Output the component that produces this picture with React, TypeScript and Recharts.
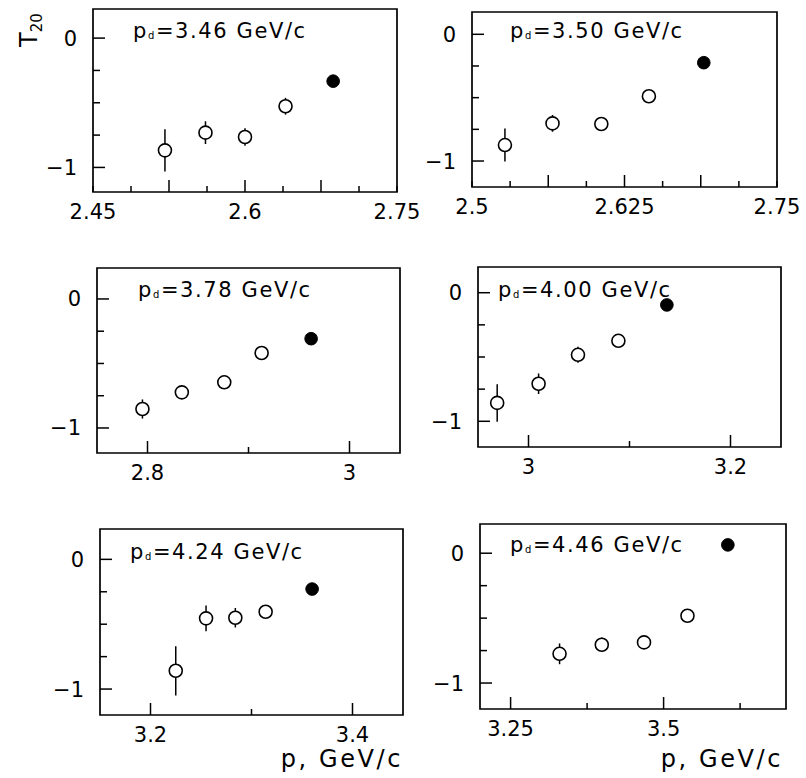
import { ErrorBar, ReferenceArea, Scatter, ScatterChart, XAxis, YAxis } from 'recharts';

// beam momentum of each panel (GeV/c)
const PANEL_PD = ['3.46', '3.50', '3.78', '4.00', '4.24', '4.46'];

// open points: p (GeV/c), T20 and its error
const OPEN_P = [
    [2.521, 2.561, 2.6, 2.64],
    [2.527, 2.566, 2.606, 2.645],
    [2.795, 2.834, 2.876, 2.913],
    [2.969, 3.01, 3.049, 3.089],
    [3.225, 3.255, 3.284, 3.314],
    [3.33, 3.399, 3.468, 3.539],
];
const OPEN_T20 = [
    [-0.868, -0.731, -0.765, -0.527],
    [-0.874, -0.703, -0.708, -0.489],
    [-0.853, -0.724, -0.646, -0.419],
    [-0.857, -0.708, -0.483, -0.374],
    [-0.859, -0.455, -0.45, -0.404],
    [-0.775, -0.705, -0.687, -0.482],
];
const OPEN_ERR = [
    [0.163, 0.088, 0.067, 0.065],
    [0.13, 0.066, 0.045, 0.045],
    [0.074, 0.045, 0.045, 0.045],
    [0.146, 0.08, 0.062, 0.045],
    [0.19, 0.1, 0.075, 0.05],
    [0.08, 0.055, 0.045, 0.045],
];

// filled point of each panel
const FILLED_P = [2.687, 2.69, 2.962, 3.137, 3.36, 3.605];
const FILLED_T20 = [-0.333, -0.224, -0.308, -0.095, -0.229, 0.064];

const X_DOMAINS = [
    [2.45, 2.75],
    [2.5, 2.75],
    [2.75, 3.05],
    [2.95, 3.25],
    [3.15, 3.45],
    [3.2, 3.7],
];
const Y_DOMAINS = [
    [-1.19, 0.225],
    [-1.205, 0.176],
    [-1.194, 0.24],
    [-1.2, 0.2],
    [-1.2, 0.234],
    [-1.2, 0.225],
];

const X_TICKS = [
    [2.45, 2.4875, 2.525, 2.5625, 2.6, 2.6375, 2.675, 2.7125, 2.75],
    [2.5, 2.53125, 2.5625, 2.59375, 2.625, 2.65625, 2.6875, 2.71875, 2.75],
    [2.8, 2.9, 3.0],
    [3.0, 3.1, 3.2],
    [3.2, 3.3, 3.4],
    [3.25, 3.375, 3.5, 3.625],
];
const X_MAJOR = [
    [2.525, 2.6, 2.675],
    [2.5625, 2.625, 2.6875],
    [2.8, 3.0],
    [3.0, 3.2],
    [3.2, 3.4],
    [3.25, 3.5],
];
const X_LABELED = [
    [2.45, 2.6, 2.75],
    [2.5, 2.625, 2.75],
    [2.8, 3.0],
    [3.0, 3.2],
    [3.2, 3.4],
    [3.25, 3.5],
];
const Y_TICKS = [-1, -0.75, -0.5, -0.25, 0];
const Y_MAJOR = [-1, 0];

// frame of each panel on the page
const BOXES = [
    { left: 93, top: 9, width: 304, height: 183, labelDx: 40, labelDy: 29 },
    { left: 472, top: 12, width: 305, height: 175, labelDx: 38, labelDy: 26 },
    { left: 97, top: 268, width: 303, height: 185, labelDx: 41, labelDy: 29 },
    { left: 478, top: 267, width: 303, height: 180, labelDx: 20, labelDy: 30 },
    { left: 100, top: 529, width: 303, height: 186, labelDx: 30, labelDy: 30 },
    { left: 480, top: 524, width: 306, height: 185, labelDx: 30, labelDy: 28 },
];

const FONT = '"DejaVu Sans", sans-serif';
const Y_AXIS_W = 70;
const X_AXIS_H = 40;
const M_TOP = 10;
const M_RIGHT = 35;

const fmt = (v: number) => (v < 0 ? '\u2212' + String(-v) : String(v));

// ticks point into the frame, so the line starts at the plot edge
function XTick(props: any) {
    const { x, payload, major, labeled, edge } = props;
    const v = payload.value;
    const len = major.includes(v) ? 12 : 6;
    return (
        <g>
            <line x1={x} y1={edge} x2={x} y2={edge - len} stroke="#000" strokeWidth={1.5} />
            {labeled.includes(v) ? (
                <text x={x} y={edge + 27} textAnchor="middle" fontSize={21} fontFamily={FONT} fill="#000">
                    {fmt(v)}
                </text>
            ) : null}
        </g>
    );
}

function YTick(props: any) {
    const { y, payload, edge } = props;
    const v = payload.value;
    const isMajor = Y_MAJOR.includes(v);
    return (
        <g>
            <line x1={edge} y1={y} x2={edge + (isMajor ? 12 : 7)} y2={y} stroke="#000" strokeWidth={1.5} />
            {isMajor ? (
                <text x={edge - 16} y={y + 7.5} textAnchor="end" fontSize={21} fontFamily={FONT} fill="#000">
                    {fmt(v)}
                </text>
            ) : null}
        </g>
    );
}

function Panel({ i }: { i: number }) {
    const box = BOXES[i];
    const xd = X_DOMAINS[i];
    const yd = Y_DOMAINS[i];
    const open = OPEN_P[i].map((p, k) => ({ x: p, y: OPEN_T20[i][k], err: OPEN_ERR[i][k] }));
    const filled = [{ x: FILLED_P[i], y: FILLED_T20[i] }];

    const panelLabel = (lp: any) => {
        const vb = lp.viewBox;
        return (
            <text
                x={vb.x + box.labelDx}
                y={vb.y + box.labelDy}
                fontSize={21}
                letterSpacing={1.6}
                fontFamily={FONT}
                fill="#000"
            >
                p
                <tspan fontSize={10} dy={1}>
                    d
                </tspan>
                <tspan dy={-1}>={PANEL_PD[i]} GeV/c</tspan>
            </text>
        );
    };

    return (
        <div
            style={{
                position: 'absolute',
                left: box.left - Y_AXIS_W,
                top: box.top - M_TOP,
            }}
        >
            <ScatterChart
                width={box.width + Y_AXIS_W + M_RIGHT}
                height={box.height + M_TOP + X_AXIS_H}
                margin={{ top: M_TOP, right: M_RIGHT, bottom: 0, left: 0 }}
            >
                <XAxis
                    type="number"
                    dataKey="x"
                    domain={xd}
                    ticks={X_TICKS[i]}
                    interval={0}
                    allowDataOverflow
                    axisLine={false}
                    tickLine={false}
                    tickSize={0}
                    tickMargin={0}
                    height={X_AXIS_H}
                    tick={(p: any) => (
                        <XTick {...p} major={X_MAJOR[i]} labeled={X_LABELED[i]} edge={M_TOP + box.height} />
                    )}
                />
                <YAxis
                    type="number"
                    dataKey="y"
                    domain={yd}
                    ticks={Y_TICKS}
                    interval={0}
                    allowDataOverflow
                    axisLine={false}
                    tickLine={false}
                    tickSize={0}
                    tickMargin={0}
                    width={Y_AXIS_W}
                    tick={(p: any) => <YTick {...p} edge={Y_AXIS_W} />}
                />
                <ReferenceArea
                    x1={xd[0]}
                    x2={xd[1]}
                    y1={yd[0]}
                    y2={yd[1]}
                    fill="none"
                    fillOpacity={0}
                    stroke="#000"
                    strokeWidth={1.7}
                    ifOverflow="visible"
                    label={panelLabel}
                />
                <Scatter
                    data={open}
                    isAnimationActive={false}
                    shape={(p: any) => (
                        <circle cx={p.cx} cy={p.cy} r={6.5} fill="#fff" stroke="#000" strokeWidth={1.6} />
                    )}
                >
                    <ErrorBar
                        dataKey="err"
                        direction="y"
                        width={0}
                        stroke="#000"
                        strokeWidth={1.5}
                        isAnimationActive={false}
                    />
                </Scatter>
                <Scatter
                    data={filled}
                    isAnimationActive={false}
                    shape={(p: any) => <circle cx={p.cx} cy={p.cy} r={6.3} fill="#000" stroke="#000" />}
                />
            </ScatterChart>
        </div>
    );
}

export default function App() {
    return (
        <div
            style={{
                position: 'absolute',
                left: 0,
                top: 0,
                width: 806,
                height: 778,
                overflow: 'hidden',
                background: '#fff',
            }}
        >
            {BOXES.map((_, i) => (
                <Panel key={i} i={i} />
            ))}
            <svg
                width={806}
                height={778}
                style={{ position: 'absolute', left: 0, top: 0, pointerEvents: 'none' }}
            >
                <text transform="translate(37,47) rotate(-90)" fontSize={24} fontFamily={FONT} fill="#000">
                    T
                    <tspan fontSize={15} dy={5}>
                        20
                    </tspan>
                </text>
                <text x={403} y={767} textAnchor="end" fontSize={24} letterSpacing={2.6} fontFamily={FONT} fill="#000">
                    p, GeV/c
                </text>
                <text x={783} y={767} textAnchor="end" fontSize={24} letterSpacing={2.6} fontFamily={FONT} fill="#000">
                    p, GeV/c
                </text>
            </svg>
        </div>
    );
}
